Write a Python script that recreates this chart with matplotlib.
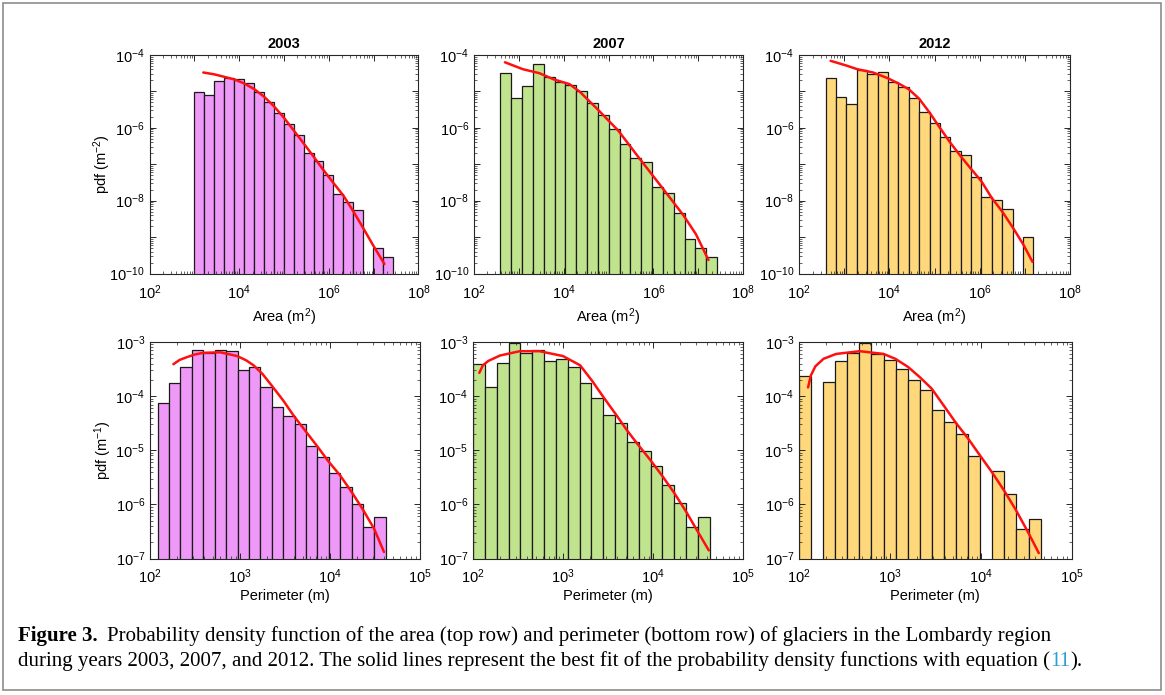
#!/usr/bin/env python

import numpy as np
import matplotlib
matplotlib.use('Agg')
import matplotlib.pyplot as plt
from matplotlib.ticker import LogLocator, NullFormatter, FuncFormatter, FixedLocator
from matplotlib.patches import Rectangle

plt.rcParams['font.family'] = ['Liberation Sans', 'DejaVu Sans']
plt.rcParams['mathtext.default'] = 'regular'

W, H = 1165, 695

years = ['2003', '2007', '2012']
bar_colors = ['#EE98F7', '#C0E48E', '#FFD87C']

# histogram bins: (log10 first edge, log10 last edge), 20 bins each
area_bins = [(3.00, 7.43), (2.59, 7.42), (2.59, 7.19)]
perim_bins = [(2.085, 4.62), (2.00, 4.63), (2.00, 4.66)]

# log10 of pdf per bin (None = empty bin)
area_2003 = [-5.02, -5.09, -4.71, -4.64, -4.67, -4.78, -5.02, -5.28, -5.58, -5.90,
	-6.20, -6.70, -6.90, -7.30, -7.82, -8.03, -8.26, None, -9.31, -9.54]
area_2007 = [-4.49, -5.19, -4.84, -4.25, -4.61, -4.75, -4.82, -4.99, -5.31, -5.65,
	-6.04, -6.45, -6.84, -6.95, -7.62, -7.80, -8.33, -9.06, -9.31, -9.54]
area_2012 = [-4.62, -5.15, -5.35, -4.40, -4.52, -4.46, -4.74, -4.87, -5.19, -5.56,
	-5.87, -6.25, -6.64, -6.75, -7.36, -7.91, -7.99, -8.23, None, -9.00]

perim_2003 = [-4.13, -3.76, -3.47, -3.14, -3.20, -3.14, -3.17, -3.52, -3.47, -3.84,
	-4.21, -4.37, -4.52, -4.92, -5.12, -5.42, -5.68, -6.00, -6.42, -6.24]
perim_2007 = [-3.41, -3.84, -3.39, -3.01, -3.20, -3.14, -3.36, -3.32, -3.47, -3.76,
	-4.03, -4.35, -4.49, -4.85, -5.02, -5.30, -5.65, -5.97, -6.42, -6.23]
perim_2012 = [-3.63, None, -3.73, -3.36, -3.20, -3.02, -3.22, -3.33, -3.49, -3.71,
	-3.88, -4.26, -4.48, -4.70, -5.10, None, -5.38, -5.81, -6.46, -6.27]

# fitted curves (log10 x, log10 y)
fit_area_2003_x = [3.20, 3.44, 3.67, 3.89, 4.11, 4.34, 4.56, 4.77, 4.99, 5.21, 5.44,
	5.66, 5.88, 6.10, 6.33, 6.55, 6.77, 7.00, 7.24]
fit_area_2003_y = [-4.48, -4.53, -4.60, -4.67, -4.78, -4.94, -5.15, -5.40, -5.71, -6.06, -6.43,
	-6.79, -7.16, -7.51, -7.87, -8.30, -8.76, -9.25, -9.74]
fit_area_2007_x = [2.69, 3.09, 3.46, 3.78, 4.13, 4.36, 4.74, 5.22, 5.69, 6.17, 6.67, 6.95, 7.23]
fit_area_2007_y = [-4.20, -4.39, -4.50, -4.67, -4.80, -5.01, -5.47, -6.08, -6.84, -7.60, -8.40, -8.92, -9.63]
fit_area_2012_x = [2.70, 3.05, 3.29, 3.64, 3.97, 4.23, 4.43, 4.66, 4.89, 5.12, 5.35, 5.58,
	5.81, 6.04, 6.27, 6.50, 6.73, 6.96, 7.17]
fit_area_2012_y = [-4.16, -4.29, -4.39, -4.48, -4.64, -4.80, -4.94, -5.20, -5.58, -6.00, -6.41, -6.78,
	-7.13, -7.47, -7.93, -8.30, -8.73, -9.19, -9.68]

fit_perim_2003_x = [2.26, 2.33, 2.41, 2.50, 2.59, 2.78, 2.97, 3.07, 3.15, 3.25, 3.35, 3.48,
	3.60, 3.73, 3.86, 3.98, 4.11, 4.24, 4.36, 4.49, 4.60]
fit_perim_2003_y = [-3.41, -3.33, -3.28, -3.23, -3.20, -3.19, -3.26, -3.34, -3.43, -3.59, -3.80, -4.08,
	-4.37, -4.65, -4.93, -5.20, -5.46, -5.77, -6.08, -6.45, -6.88]
fit_perim_2007_x = [2.07, 2.11, 2.17, 2.30, 2.52, 2.74, 3.00, 3.19, 3.32, 3.45, 3.58, 3.71,
	3.84, 3.97, 4.11, 4.24, 4.37, 4.50, 4.62]
fit_perim_2007_y = [-3.57, -3.43, -3.35, -3.25, -3.17, -3.17, -3.26, -3.43, -3.71, -4.02, -4.32, -4.63,
	-4.91, -5.18, -5.49, -5.80, -6.14, -6.51, -6.85]
fit_perim_2012_x = [2.10, 2.13, 2.18, 2.27, 2.41, 2.67, 2.93, 3.06, 3.20, 3.33, 3.46, 3.60,
	3.73, 3.86, 3.99, 4.13, 4.26, 4.39, 4.53, 4.64]
fit_perim_2012_y = [-3.84, -3.62, -3.45, -3.31, -3.22, -3.17, -3.22, -3.31, -3.46, -3.65, -3.86, -4.19,
	-4.50, -4.78, -5.09, -5.42, -5.75, -6.11, -6.54, -6.90]

area_pdfs = [area_2003, area_2007, area_2012]
perim_pdfs = [perim_2003, perim_2007, perim_2012]
area_fits = [(fit_area_2003_x, fit_area_2003_y), (fit_area_2007_x, fit_area_2007_y),
	(fit_area_2012_x, fit_area_2012_y)]
perim_fits = [(fit_perim_2003_x, fit_perim_2003_y), (fit_perim_2007_x, fit_perim_2007_y),
	(fit_perim_2012_x, fit_perim_2012_y)]

caption_1 = 'Probability density function of the area (top row) and perimeter (bottom row) of glaciers in the Lombardy region'
caption_2 = 'during years 2003, 2007, and 2012. The solid lines represent the best fit of the probability density functions with equation ('

# axes boxes in pixels: (left, top, right, bottom)
top_boxes = [(149.5, 55, 418.5, 273.5), (474, 55, 743, 273.5), (799, 55, 1070, 273.5)]
bot_boxes = [(150, 342, 420, 558.5), (473, 342, 743, 558.5), (799, 342, 1071.5, 558.5)]


def add_axes(fig, box):
	l, t, r, b = box
	return fig.add_axes([l / W, 1 - b / H, (r - l) / W, (b - t) / H])


def even_only(v, pos):
	e = int(round(np.log10(v)))
	if e % 2 == 0:
		return '$10^{%d}$' % e
	return ''


def all_dec(v, pos):
	return '$10^{%d}$' % int(round(np.log10(v)))


def style(ax, xlim, ylim, fmt, xpad):
	ax.set_xscale('log')
	ax.set_yscale('log')
	ax.set_xlim(*xlim)
	ax.set_ylim(*ylim)
	ax.xaxis.set_major_locator(FixedLocator(10.0 ** np.arange(np.log10(xlim[0]), np.log10(xlim[1]) + 1)))
	ax.yaxis.set_major_locator(FixedLocator(10.0 ** np.arange(np.log10(ylim[0]), np.log10(ylim[1]) + 1)))
	ax.xaxis.set_major_formatter(FuncFormatter(fmt))
	ax.yaxis.set_major_formatter(FuncFormatter(fmt))
	ax.xaxis.set_minor_locator(LogLocator(base=10, subs=np.arange(2, 10), numticks=100))
	ax.yaxis.set_minor_locator(LogLocator(base=10, subs=np.arange(2, 10), numticks=100))
	ax.xaxis.set_minor_formatter(NullFormatter())
	ax.yaxis.set_minor_formatter(NullFormatter())
	ax.tick_params(which='both', direction='in', top=True, right=True, colors='#262626',
		labelcolor='black', labelsize=10.5)
	ax.tick_params(which='major', length=4, width=0.7)
	ax.tick_params(which='minor', length=2, width=0.5)
	ax.tick_params(axis='x', which='major', pad=xpad)
	for s in ax.spines.values():
		s.set_color('#262626')
		s.set_linewidth(0.8)


def draw_hist(ax, bins, logpdf, color, fit):
	edges = np.logspace(bins[0], bins[1], len(logpdf) + 1)
	keep = [i for i, v in enumerate(logpdf) if v is not None]
	lefts = edges[:-1][keep]
	widths = np.diff(edges)[keep]
	heights = 10.0 ** np.array([logpdf[i] for i in keep])
	ax.bar(lefts, heights, width=widths, align='edge', color=color,
		edgecolor='#1a1a1a', linewidth=0.9)
	ax.plot(10.0 ** np.array(fit[0]), 10.0 ** np.array(fit[1]), color='#FF1010', lw=1.8,
		solid_capstyle='round', solid_joinstyle='round')


def main():
	fig = plt.figure(figsize=(W / 100.0, H / 100.0), dpi=100)

	for i in range(3):
		ax = add_axes(fig, top_boxes[i])
		style(ax, (1e2, 1e8), (1e-10, 1e-4), even_only, 7)
		draw_hist(ax, area_bins[i], area_pdfs[i], bar_colors[i], area_fits[i])
		ax.set_title(years[i], fontweight='bold', fontsize=10.5, pad=5)
		ax.set_xlabel('Area (m$^2$)', fontsize=10.5, labelpad=3)
		if i == 0:
			ax.set_ylabel('pdf (m$^{-2}$)', fontsize=10.5)
			ax.yaxis.set_label_coords(-0.135, 0.5)

		ax = add_axes(fig, bot_boxes[i])
		style(ax, (1e2, 1e5), (1e-7, 1e-3), all_dec, 6.5)
		draw_hist(ax, perim_bins[i], perim_pdfs[i], bar_colors[i], perim_fits[i])
		ax.set_xlabel('Perimeter (m)', fontsize=10.5, labelpad=2)
		if i == 0:
			ax.set_ylabel('pdf (m$^{-1}$)', fontsize=10.5)
			ax.yaxis.set_label_coords(-0.135, 0.5)

	# frame round the whole figure
	fig.patches.append(Rectangle((3.0 / W, 1 - 690.0 / H), 1158.0 / W, 687.0 / H,
		transform=fig.transFigure, fill=False, edgecolor='#8c8c8c', lw=1.2))

	# caption, pieced together so the reference number can be blue
	r = fig.canvas.get_renderer()
	serif = ['Liberation Serif', 'DejaVu Serif']
	fs = 15.0

	def put(x, y, s, **kw):
		t = fig.text(x / W, 1 - y / H, s, family=serif, fontsize=fs, va='baseline', **kw)
		return t.get_window_extent(renderer=r).x1

	x = put(18, 641, 'Figure 3.', fontweight='bold')
	put(x + 9, 641, caption_1)
	x = put(18, 666, caption_2)
	x = put(x, 666, '11', color='#2A9FD6')
	put(x, 666, ').')

	fig.savefig('out.png', dpi=100)


if __name__ == '__main__':
	main()
